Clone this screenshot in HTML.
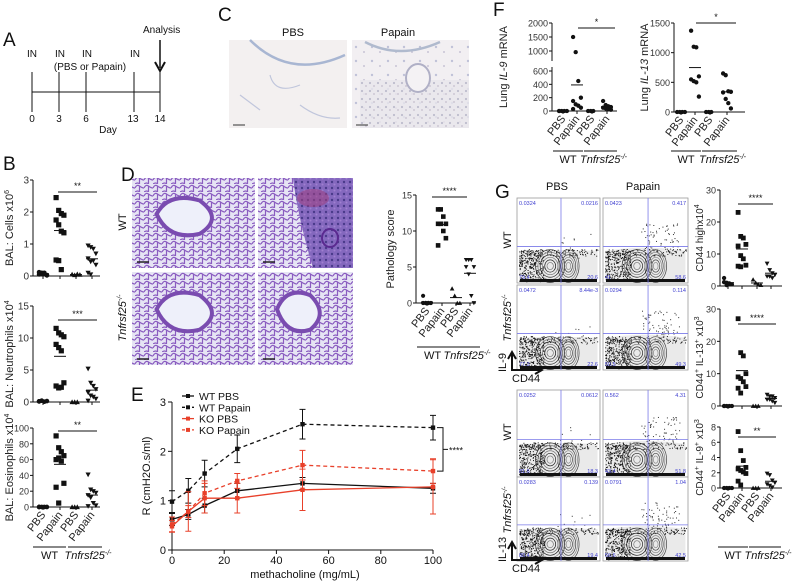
<!DOCTYPE html>
<html><head><meta charset="utf-8"><style>
html,body{margin:0;padding:0;background:#fff;}
svg{display:block;font-family:"Liberation Sans",Arial,sans-serif;}
</style></head><body>
<svg id="fig" width="800" height="588" viewBox="0 0 800 588" xmlns="http://www.w3.org/2000/svg">
<defs>
<pattern id="alv" width="9" height="8" patternUnits="userSpaceOnUse">
<rect width="9" height="8" fill="#e6e4f4"/>
<path d="M0 4 Q2 0 4.5 2 T9 4 M4.5 2 L4.5 8 M0 8 Q3 6 4.5 8" stroke="#8a5cc0" stroke-width="1.2" fill="none"/>
</pattern>
<pattern id="alvD" width="6" height="6" patternUnits="userSpaceOnUse">
<rect width="6" height="6" fill="#8468be"/>
<circle cx="2" cy="2" r="1.2" fill="#4a3a8a"/><circle cx="4.5" cy="4.5" r="1" fill="#a080d0"/>
</pattern>
<pattern id="ihc" width="16" height="14" patternUnits="userSpaceOnUse">
<rect width="16" height="14" fill="#f2eff2"/>
<circle cx="4" cy="5" r="1.2" fill="#c0c2d8"/><circle cx="12" cy="10" r="1" fill="#c8c4d6"/>
</pattern>
<pattern id="ihc2" width="8" height="8" patternUnits="userSpaceOnUse">
<rect width="8" height="8" fill="#e8e6ec"/>
<circle cx="2" cy="3" r="1.1" fill="#b0b0c4"/><circle cx="6" cy="6" r="0.9" fill="#b8b2c4"/>
</pattern>
</defs>
<g id="root"></g>
</svg>
<script>
// ---------- Panel B data ----------
const bCats = ["PBS","Papain","PBS","Papain"];
const bCellsWtPbs = [0.05,0.1,0.08,0.02,0.12,0.06,0.1,0.03];
const bCellsWtPap = [2.45,2.05,1.95,1.9,1.75,1.6,1.4,1.35,0.5,0.48,0.2];
const bCellsKoPbs = [0.05,0.03,0.06,0.04];
const bCellsKoPap = [0.95,0.9,0.85,0.7,0.55,0.45,0.48,0.35,0.1,0.05];
const bCellsTicks = [0,1,2,3];
const bNeuWtPbs = [0.1,0.2,0.05,0.15,0.1,0.2];
const bNeuWtPap = [11.5,10.8,10.5,10.2,9,8.5,8,3,2.5,2.2,2.3];
const bNeuKoPbs = [0,0,0];
const bNeuKoPap = [5.2,3,2.5,2,1.5,1,0.8,0.5,0.2];
const bNeuTicks = [0,5,10,15];
const bEosWtPbs = [0,0,0,0,0];
const bEosWtPap = [90,75,70,65,60,62,58,30,25,5];
const bEosKoPbs = [0,0,0];
const bEosKoPap = [41,22,20,18,15,12,5,2,1];
const bEosTicks = [0,20,40,60,80,100];
// ---------- Panel D data ----------
const dPathWtPbs = [0,0,0,0,1,0,0];
const dPathWtPap = [13,13,12,11,11,11,10,9,8];
const dPathKoPbs = [2,1,0,0];
const dPathKoPap = [6,6,6,5,5,4,1,0];
const dPathTicks = [0,5,10,15];
// ---------- Panel E data ----------
const eDoses = [0,6.25,12.5,25,50,100];
const eWtPbs = [0.62,0.72,0.9,1.2,1.35,1.25];
const eWtPbsErr = [0.12,0.1,0.15,0.15,0.12,0.1];
const eWtPap = [0.98,1.2,1.55,2.05,2.55,2.48];
const eWtPapErr = [0.22,0.25,0.27,0.28,0.3,0.25];
const eKoPbs = [0.48,0.78,1.05,1.05,1.22,1.28];
const eKoPbsErr = [0.12,0.4,0.3,0.3,0.42,0.55];
const eKoPap = [0.52,0.78,1.15,1.4,1.72,1.6];
const eKoPapErr = [0.15,0.12,0.25,0.15,0.3,0.25];
const eXTicks = [0,20,40,60,80,100];
const eYTicks = [0,1,2,3];
const eSeriesNames = ["WT PBS","WT Papain","KO PBS","KO Papain"];
// ---------- Panel F data ----------
const fIl9WtPbs = [0,0,0,0,0];
const fIl9WtPap = [1500,960,450,200,150,100,80,50,30];
const fIl9KoPbs = [0,0,0];
const fIl9KoPap = [150,90,70,60,50,40,30,20];
const fIl9Ticks = [0,200,400,600,1000,1500,2000];
const fIl13WtPbs = [0,0,0,0];
const fIl13WtPap = [1370,1100,1090,600,550,520,500,260];
const fIl13KoPbs = [0,0,0];
const fIl13KoPap = [650,620,350,340,330,220,150,60];
const fIl13Ticks = [0,500,1000,1500];
// ---------- Panel G data ----------
const gHiWtPbs = [2.5,1,0.8,0.5,1.2,0.3];
const gHiWtPap = [23,15.5,15,13,12.5,9.5,8.5,6.5,6.2,6];
const gHiKoPbs = [2,1,0.5,0.3];
const gHiKoPap = [7,5,4,3.5,3,3,2.5];
const gHiTicks = [0,10,20,30];
const g13WtPbs = [0,0,0,0,0];
const g13WtPap = [27,16.5,15.5,10,9,8.5,7.5,6,5.5,4];
const g13KoPbs = [0,0,0];
const g13KoPap = [3.5,3,3,2.5,2,2,1.5,1];
const g13Ticks = [0,10,20,30];
const g9WtPbs = [0,0,0,0];
const g9WtPap = [7.4,4.9,3.6,2.7,2.5,2.3,2.1,1.9,0.9,0.4];
const g9KoPbs = [0,0,0];
const g9KoPap = [1.9,1.7,1,0.7,0.5,0.3,0.1];
const g9Ticks = [0,2,4,6,8];
const flowQuadRow1 = [["0.0324","0.0216","79.4","20.6"],["0.0423","0.417","41","58.6"]];
const flowQuadRow2 = [["0.0472","8.44e-3","77.3","22.6"],["0.0294","0.114","50.5","49.3"]];
const flowQuadRow3 = [["0.0252","0.0612","81.6","18.3"],["0.562","4.31","43.4","51.8"]];
const flowQuadRow4 = [["0.0283","0.139","80.4","19.4"],["0.0791","1.04","56.6","42.5"]];

const NS="http://www.w3.org/2000/svg";
const root=document.getElementById('root');
function el(tag,attrs,parent,txt){const e=document.createElementNS(NS,tag);for(const k in attrs)e.setAttribute(k,attrs[k]);if(txt!==undefined)e.textContent=txt;(parent||root).appendChild(e);return e;}
function text(x,y,s,size,opts,parent){opts=opts||{};const t=el('text',Object.assign({x:x,y:y,'font-size':size,fill:'#111'},opts),parent,s);return t;}
function mean(a){return a.reduce((p,c)=>p+c,0)/a.length;}

function marker(g,shape,x,y,r){
  let m;
  if(shape==='circle'){m=el('circle',{cx:x,cy:y,r:r*0.9,fill:'#111'},g);}
  else if(shape==='square'){m=el('rect',{x:x-r,y:y-r,width:2*r,height:2*r,fill:'#111'},g);}
  else if(shape==='tri'){m=el('path',{d:`M${x} ${y-r} L${x+r} ${y+r*0.8} L${x-r} ${y+r*0.8}Z`,fill:'#111'},g);}
  else {m=el('path',{d:`M${x} ${y+r} L${x+r} ${y-r*0.8} L${x-r} ${y-r*0.8}Z`,fill:'#111'},g);}
  
  
  return m;
}

function dotPlot(c){
  const g=el('g',{},root);
  
  
  const y=c.yMap;
  const ax=el('path',{d:`M${c.x0} ${c.yTop} L${c.x0} ${c.yBot} L${c.xEnd} ${c.yBot}`,stroke:'#111','stroke-width':1,fill:'none'},g);
  
  
  c.ticks.forEach(v=>{
    el('line',{x1:c.x0-3,x2:c.x0,y1:y(v),y2:y(v),stroke:'#111'},g);
    const t=text(c.x0-4,y(v)+3.5,String(v),c.tickSize||10,{'text-anchor':'end',fill:'#333'},g);
    
    
  });
  c.cats.forEach(cx=>el('line',{x1:cx,x2:cx,y1:c.yBot,y2:c.yBot+3,stroke:'#111'},g));
  const shapes=c.shapes||['circle','square','tri','invtri'];
  c.data.forEach((arr,i)=>{
    arr.forEach((v,j)=>{
      const off=((j%4)-1.5)*2.6;
      marker(g,shapes[i],c.cats[i]+off,y(v),c.r||2.6);
    });
    const m=mean(arr);
    const ml=el('line',{x1:c.cats[i]-6,x2:c.cats[i]+6,y1:y(m),y2:y(m),stroke:'#111','stroke-width':1},g);
    
    
  });
  const sl=el('line',{x1:c.sig[0],x2:c.sig[1],y1:c.sig[2],y2:c.sig[2],stroke:'#111','stroke-width':1},g);
  
  
  const st=text((c.sig[0]+c.sig[1])/2,c.sig[2]-3,c.sig[3],9,{'text-anchor':'middle'},g);
  
  
  const yl=text(0,0,'',c.ylSize||11,{'text-anchor':'middle',transform:`translate(${c.ylX},${(c.yTop+c.yBot)/2}) rotate(-90)`,fill:'#222'},g);
  yl.innerHTML=c.ylabel;
  
  
  if(c.xlabels){
    c.cats.forEach((cx,i)=>{
      const t=text(0,0,bCats[i],11,{'text-anchor':'end',transform:`translate(${cx+3},${c.yBot+8}) rotate(-52)`,fill:'#222'},g);
      
      
    });
    const gy=c.groupY;
    el('line',{x1:c.cats[0]-10,x2:c.cats[1]+6,y1:gy,y2:gy,stroke:'#111'},g);
    el('line',{x1:c.cats[2]-8,x2:c.cats[3]+10,y1:gy,y2:gy,stroke:'#111'},g);
    const w=text((c.cats[0]+c.cats[1])/2-2,gy+12,'WT',11,{'text-anchor':'middle'},g);
    
    
    const k=text((c.cats[2]+c.cats[3])/2+4,gy+12,'',11,{'text-anchor':'middle','font-style':'italic'},g);
    k.innerHTML='Tnfrsf25<tspan font-size="7" dy="-4">-/-</tspan>';
    
    
  }
  return g;
}
function lin(d0,d1,p0,p1){return v=>p0+(v-d0)*(p1-p0)/(d1-d0);}
function panelLabel(x,y,s){const t=text(x,y,s,19,{fill:'#111'});}

// ---------- Panel A ----------
panelLabel(3,46,'A');
(function(){
  const g=el('g',{});  
  el('line',{x1:32,x2:160,y1:92,y2:92,stroke:'#111'},g);
  const days=[0,3,6,13,14], xs=[32,59,86,134,160];
  xs.forEach((x,i)=>{el('line',{x1:x,x2:x,y1:i==4?70:72,y2:112,stroke:'#111'},g);text(x+(i==3?-1:0),122,String(days[i]),10,{'text-anchor':'middle'},g);});
  [32,60,87,135].forEach(x=>text(x,57,'IN',10,{'text-anchor':'middle'},g));
  text(90,70,'(PBS or Papain)',10,{'text-anchor':'middle'},g);
  text(108,133,'Day',10,{'text-anchor':'middle'},g);
  text(143,33,'Analysis',10,{},g);
  el('line',{x1:160,x2:160,y1:40,y2:68,stroke:'#111','stroke-width':1.5},g);
  el('path',{d:'M155 62 L160 71 L165 62',stroke:'#111','stroke-width':2,fill:'none'},g);
})();

// ---------- Panel C ----------
panelLabel(218,21,'C');
text(293,36,'PBS',11,{'text-anchor':'middle'});
text(398,36,'Papain',11,{'text-anchor':'middle'});
(function(){
  const a=el('rect',{x:229,y:40,width:118,height:88,fill:'#f3f0f0'});  
  el('path',{d:'M250 40 Q290 80 345 55',stroke:'#a8b6d2','stroke-width':2.5,fill:'none'});
  el('path',{d:'M270 75 Q275 95 300 85 M240 95 L260 110 M300 105 Q320 120 340 118',stroke:'#c0c6dc','stroke-width':1.2,fill:'none'});
  el('line',{x1:233,x2:245,y1:125,y2:125,stroke:'#333'});
  const b=el('rect',{x:352,y:40,width:117,height:88,fill:'url(#ihc)'});  
  el('rect',{x:360,y:80,width:109,height:48,fill:'url(#ihc2)',opacity:0.8});
  el('path',{d:'M365 42 Q400 60 440 42',stroke:'#b0bace','stroke-width':2.5,fill:'none'});
  el('ellipse',{cx:418,cy:78,rx:12,ry:14,fill:'#f4f2f4',stroke:'#b0b0c6','stroke-width':2});
  el('line',{x1:356,x2:368,y1:125,y2:125,stroke:'#333'});
})();

// ---------- Panel B ----------
panelLabel(3,170,'B');
dotPlot({name:'bal-cells-plot',x0:33,xEnd:100,yTop:180,yBot:276,yMap:lin(0,3,276,180),ticks:bCellsTicks,cats:[43,60,76,92],
  data:[bCellsWtPbs,bCellsWtPap,bCellsKoPbs,bCellsKoPap],sig:[58,97,192,'**'],ylabel:'BAL: Cells x10<tspan font-size="7" dy="-4">6</tspan>',ylX:13});
dotPlot({name:'bal-neutrophils-plot',x0:33,xEnd:100,yTop:306,yBot:402,yMap:lin(0,15,402,306),ticks:bNeuTicks,cats:[43,60,76,92],
  data:[bNeuWtPbs,bNeuWtPap,bNeuKoPbs,bNeuKoPap],sig:[58,97,320,'***'],ylabel:'BAL: Neutrophils x10<tspan font-size="7" dy="-4">4</tspan>',ylX:13});
dotPlot({name:'bal-eosinophils-plot',x0:33,xEnd:100,yTop:428,yBot:507,yMap:lin(0,100,507,428),ticks:bEosTicks,cats:[43,60,76,92],tickSize:9,
  data:[bEosWtPbs,bEosWtPap,bEosKoPbs,bEosKoPap],sig:[58,97,431,'**'],ylabel:'BAL: Eosinophils x10<tspan font-size="7" dy="-4">4</tspan>',ylX:13,
  xlabels:true,groupY:547});

// ---------- Panel D ----------
panelLabel(121,181,'D');
text(196,187,'PBS',11,{'text-anchor':'middle'});
text(305,187,'Papain',11,{'text-anchor':'middle'});
(function(){
  const tiles=[[132,178,123,90,'he-image-wt-pbs',0],[258,178,95,90,'he-image-wt-papain',1],[132,272,123,93,'he-image-ko-pbs',0],[258,272,95,93,'he-image-ko-papain',0]];
  tiles.forEach(t=>{
    const r=el('rect',{x:t[0],y:t[1],width:t[2],height:t[3],fill:'url(#alv)'});
     
    if(t[5]){el('path',{d:`M${t[0]+35} ${t[1]} L${t[0]+95} ${t[1]} L${t[0]+95} ${t[1]+90} L${t[0]+55} ${t[1]+90} Q${t[0]+40} ${t[1]+40} ${t[0]+35} ${t[1]}Z`,fill:'url(#alvD)'});
      el('ellipse',{cx:t[0]+55,cy:t[1]+20,rx:16,ry:9,fill:'#a04080',opacity:0.55});
      el('ellipse',{cx:t[0]+72,cy:t[1]+60,rx:8,ry:9,fill:'none',stroke:'#5a2a90','stroke-width':2});}
    else{el('path',{d:`M${t[0]+t[2]*0.2} ${t[1]+t[3]*0.4} Q${t[0]+t[2]*0.3} ${t[1]+t[3]*0.15} ${t[0]+t[2]*0.55} ${t[1]+t[3]*0.25} Q${t[0]+t[2]*0.75} ${t[1]+t[3]*0.45} ${t[0]+t[2]*0.55} ${t[1]+t[3]*0.62} Q${t[0]+t[2]*0.3} ${t[1]+t[3]*0.7} ${t[0]+t[2]*0.2} ${t[1]+t[3]*0.4}Z`,fill:'#eef0fa',stroke:'#7a4cb0','stroke-width':4});}
    el('line',{x1:t[0]+5,x2:t[0]+17,y1:t[1]+t[3]-6,y2:t[1]+t[3]-6,stroke:'#222','stroke-width':1.5});
  });
  text(0,0,'WT',11,{'text-anchor':'middle',transform:'translate(126,222) rotate(-90)'});
  const k=text(0,0,'',11,{'text-anchor':'middle','font-style':'italic',transform:'translate(126,318) rotate(-90)'});
  k.innerHTML='Tnfrsf25<tspan font-size="7" dy="-4">-/-</tspan>';
})();
dotPlot({name:'pathology-score-plot',x0:416,xEnd:476,yTop:195,yBot:303,yMap:lin(0,15,303,195),ticks:dPathTicks,cats:[427,442,456,470],
  data:[dPathWtPbs,dPathWtPap,dPathKoPbs,dPathKoPap],sig:[432,467,197,'****'],ylabel:'Pathology score',ylX:394,tickSize:9,r:2.3,
  xlabels:true,groupY:347});

// ---------- Panel E ----------
panelLabel(131,401,'E');
(function(){
  const g=el('g',{});  
  const X=lin(0,100,172,433), Y=lin(0,3,550,402);
  el('path',{d:`M172 402 L172 550 L433 550`,stroke:'#111',fill:'none'},g);
  eYTicks.forEach(v=>{el('line',{x1:168,x2:172,y1:Y(v),y2:Y(v),stroke:'#111'},g);text(166,Y(v)+4,String(v),11,{'text-anchor':'end'},g);});
  eXTicks.forEach(v=>{el('line',{x1:X(v),x2:X(v),y1:550,y2:554,stroke:'#111'},g);text(X(v),564,String(v),11,{'text-anchor':'middle'},g);});
  text(305,578,'methacholine (mg/mL)',11,{'text-anchor':'middle'},g);
  text(0,0,'R (cmH2O.s/ml)',11,{'text-anchor':'middle',transform:'translate(150,476) rotate(-90)'},g);
  const series=[[eWtPbs,eWtPbsErr,'#111','',4],[eWtPap,eWtPapErr,'#111','4,3',4],[eKoPbs,eKoPbsErr,'#e8402a','',3],[eKoPap,eKoPapErr,'#e8402a','4,3',3]];
  series.forEach((s,si)=>{
    const sg=el('g',{},g);
    
    
    const pts=eDoses.map((d,i)=>X(d)+','+Y(s[0][i])).join(' ');
    el('polyline',{points:pts,stroke:s[2],'stroke-width':1.3,fill:'none','stroke-dasharray':s[3]},sg);
    eDoses.forEach((d,i)=>{
      const x=X(d),y=Y(s[0][i]),e=s[1][i];
      el('path',{d:`M${x} ${Y(s[0][i]-e)} L${x} ${Y(s[0][i]+e)} M${x-3} ${Y(s[0][i]-e)} L${x+3} ${Y(s[0][i]-e)} M${x-3} ${Y(s[0][i]+e)} L${x+3} ${Y(s[0][i]+e)}`,stroke:s[2],'stroke-width':1,fill:'none'},sg);
      const m=el('rect',{x:x-2.2,y:y-2.2,width:4.4,height:4.4,fill:s[2]},sg);
      
      
    });
    const ly=396+si*11.3;
    const lg=el('g',{},g);
    
    
    el('line',{x1:182,x2:194,y1:ly,y2:ly,stroke:s[2],'stroke-width':1.3,'stroke-dasharray':s[3]?'3,2':''},lg);
    el('rect',{x:186,y:ly-2,width:4,height:4,fill:s[2]},lg);
    text(199,ly+4,eSeriesNames[si],10.5,{fill:'#111'},lg);
  });
  const yA=Y(eWtPap[5]), yB=Y(eKoPap[5]);
  el('path',{d:`M437 ${yA} L443 ${yA} L443 ${yB} L437 ${yB} M443 ${(yA+yB)/2} L448 ${(yA+yB)/2}`,stroke:'#111',fill:'none'},g);
  text(449,(yA+yB)/2+4,'****',9,{},g);
})();

// ---------- Panel F ----------
panelLabel(493,16,'F');
(function(){
  const il9Y=v=> v<=600 ? 111-(v/600)*40 : 51-((v-1000)/1000)*28;
  const g=dotPlot({name:'lung-il9-mrna-plot',x0:552,xEnd:617,yTop:23,yBot:111,yMap:il9Y,ticks:fIl9Ticks,cats:[563,577,592,607],tickSize:9,r:2.4,
    shapes:['circle','circle','circle','circle'],
    data:[fIl9WtPbs,fIl9WtPap,fIl9KoPbs,fIl9KoPap],sig:[578,615,28,'*'],ylabel:'Lung <tspan font-style="italic">IL-9</tspan> mRNA',ylX:507,
    xlabels:true,groupY:151});
  el('rect',{x:548,y:61,width:8,height:6,fill:'#fff'},g);
  dotPlot({name:'lung-il13-mrna-plot',x0:674,xEnd:745,yTop:23,yBot:112,yMap:lin(0,1500,112,23),ticks:fIl13Ticks,cats:[681,695,710,727],tickSize:9,r:2.4,
    shapes:['circle','circle','circle','circle'],
    data:[fIl13WtPbs,fIl13WtPap,fIl13KoPbs,fIl13KoPap],sig:[696,736,23,'*'],ylabel:'Lung <tspan font-style="italic">IL-13</tspan> mRNA',ylX:648,
    xlabels:true,groupY:151});
})();

// ---------- Panel G ----------
panelLabel(495,198,'G');
text(557,190,'PBS',11,{'text-anchor':'middle'});
text(643,190,'Papain',11,{'text-anchor':'middle'});
(function(){
  let seed=7; const rnd=()=>{seed=(seed*9301+49297)%233280;return seed/233280;};
  const rows=[[198,85,flowQuadRow1],[285,85,flowQuadRow2],[390,87,flowQuadRow3],[477,84,flowQuadRow4]];
  const cols=[[517,83],[603,85]];
  rows.forEach((r,ri)=>cols.forEach((c,ci)=>{
    const g=el('g',{});  
    const x=c[0],y=r[0],w=c[1],h=r[1];
    el('rect',{x:x,y:y,width:w,height:h,fill:'#fff',stroke:'#999','stroke-width':0.8},g);
    el('path',{d:`M${x+2} ${y+h-3} L${x+2} ${y+h*0.62} Q${x+w*0.5} ${y+h*(ci?0.55:0.6)} ${x+w*0.97} ${y+h*0.62} L${x+w*0.97} ${y+h-3}Z`,fill:'#888',opacity:0.18},g);
    for(let i=0;i<260;i++){const px=x+2+rnd()*w*0.3,py=y+h*0.62+rnd()*h*0.36;el('rect',{x:px,y:py,width:1,height:1,fill:'#111'},g);}
    for(let i=0;i<120;i++){const px=x+2+rnd()*(w-4),py=y+h*0.6+rnd()*h*0.08;el('rect',{x:px,y:py,width:1,height:1,fill:'#222'},g);}
    const up= ci===1?60:12;
    for(let i=0;i<up;i++){const px=x+w*0.45+rnd()*w*0.45,py=y+h*(ci===1?0.3:0.42)+rnd()*h*0.3;el('rect',{x:px,y:py,width:1,height:1,fill:'#333'},g);}
    [0.32,0.27,0.22,0.17,0.12,0.07].forEach((k,i)=>{
      el('ellipse',{cx:x+w*0.4,cy:y+h*0.8,rx:w*k*0.55,ry:h*k*0.6,fill:'none',stroke:i%2?'#777':'#222','stroke-width':0.7},g);
      el('ellipse',{cx:x+w*0.62,cy:y+h*0.8,rx:w*k*0.4,ry:h*k*0.6,fill:'none',stroke:i%2?'#888':'#444','stroke-width':0.7},g);
    });
    el('rect',{x:x+3,y:y+h-4,width:w-6,height:3,fill:'#111'},g);
    el('line',{x1:x+w*0.53,x2:x+w*0.53,y1:y,y2:y+h,stroke:'#7a7ae8','stroke-width':0.8},g);
    el('line',{x1:x,x2:x+w,y1:y+h*0.57,y2:y+h*0.57,stroke:'#7a7ae8','stroke-width':0.8},g);
    const q=r[2][ci];
    text(x+2,y+7,q[0],5.5,{fill:'#4040d0'},g);
    text(x+w-2,y+7,q[1],5.5,{fill:'#4040d0','text-anchor':'end'},g);
    text(x+2,y+h-4,q[2],5.5,{fill:'#4040d0'},g);
    text(x+w-2,y+h-4,q[3],5.5,{fill:'#4040d0','text-anchor':'end'},g);
  }));
  text(0,0,'WT',11,{'text-anchor':'middle',transform:'translate(511,240) rotate(-90)'});
  let k=text(0,0,'',11,{'text-anchor':'middle','font-style':'italic',transform:'translate(511,318) rotate(-90)'});
  k.innerHTML='Tnfrsf25<tspan font-size="7" dy="-4">-/-</tspan>';
  text(0,0,'WT',11,{'text-anchor':'middle',transform:'translate(511,432) rotate(-90)'});
  k=text(0,0,'',11,{'text-anchor':'middle','font-style':'italic',transform:'translate(511,510) rotate(-90)'});
  k.innerHTML='Tnfrsf25<tspan font-size="7" dy="-4">-/-</tspan>';
  [[370,'IL-9',352],[560,'IL-13',542]].forEach(a=>{
    el('path',{d:`M512 ${a[2]+2} L512 ${a[0]} L540 ${a[0]}`,stroke:'#111','stroke-width':2,fill:'none'});
    el('path',{d:`M508 ${a[2]+7} L512 ${a[2]} L516 ${a[2]+7} M535 ${a[0]-4} L542 ${a[0]} L535 ${a[0]+4}`,stroke:'#111','stroke-width':2,fill:'none'});
    text(0,0,a[1],11,{'text-anchor':'start',transform:`translate(506,${a[0]+2}) rotate(-90)`});
    text(512,a[0]+12,'CD44',11,{});
  });
})();
dotPlot({name:'cd44-high-plot',x0:720,xEnd:782,yTop:190,yBot:286,yMap:lin(0,30,286,190),ticks:gHiTicks,cats:[728,742,757,771],tickSize:9,r:2.4,
  data:[gHiWtPbs,gHiWtPap,gHiKoPbs,gHiKoPap],sig:[738,773,204,'****'],ylabel:'CD44 highx10<tspan font-size="7" dy="-4">4</tspan>',ylX:703,ylSize:10});
dotPlot({name:'cd44-il13-plot',x0:720,xEnd:782,yTop:309,yBot:406,yMap:lin(0,30,406,309),ticks:g13Ticks,cats:[728,742,757,771],tickSize:9,r:2.4,
  data:[g13WtPbs,g13WtPap,g13KoPbs,g13KoPap],sig:[738,776,324,'****'],ylabel:'CD44<tspan font-size="7" dy="-4">+</tspan><tspan dy="4"> IL-13</tspan><tspan font-size="7" dy="-4">+</tspan><tspan dy="4"> x10</tspan><tspan font-size="7" dy="-4">3</tspan>',ylX:703,ylSize:10});
dotPlot({name:'cd44-il9-plot',x0:720,xEnd:782,yTop:427,yBot:488,yMap:lin(0,8,488,427),ticks:g9Ticks,cats:[728,742,757,771],tickSize:9,r:2.4,
  data:[g9WtPbs,g9WtPap,g9KoPbs,g9KoPap],sig:[738,776,437,'**'],ylabel:'CD44<tspan font-size="7" dy="-4">+</tspan><tspan dy="4"> IL-9</tspan><tspan font-size="7" dy="-4">+</tspan><tspan dy="4"> x10</tspan><tspan font-size="7" dy="-4">3</tspan>',ylX:703,ylSize:10,
  xlabels:true,groupY:547});
</script>
</body></html>
